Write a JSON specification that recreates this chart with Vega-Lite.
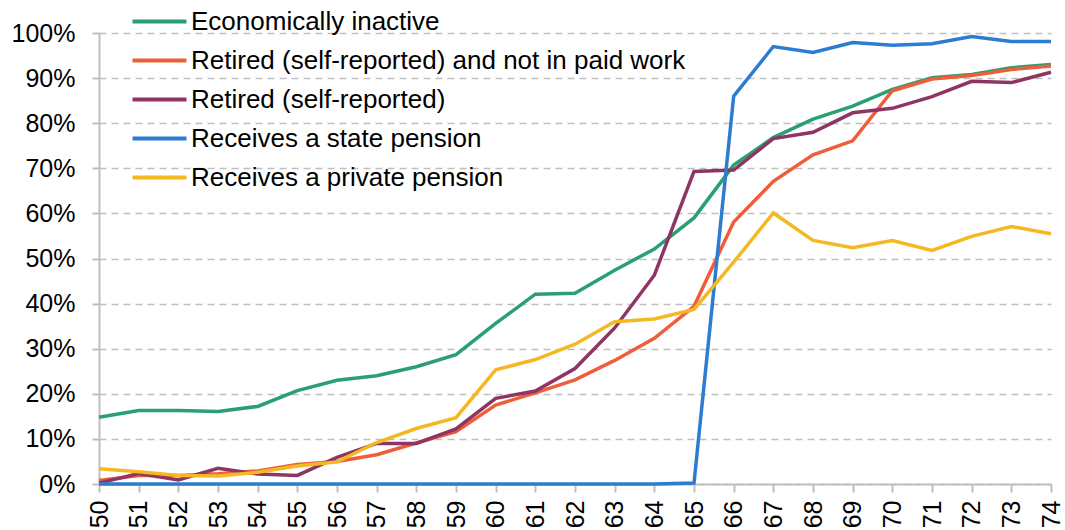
{
  "$schema": "https://vega.github.io/schema/vega-lite/v6.json",
  "width": 952,
  "height": 451,
  "autosize": "none",
  "padding": {"left": 99, "top": 33, "right": 14, "bottom": 46},
  "background": "white",
  "config": {"view": {"stroke": null}, "font": "Liberation Sans"},
  "datasets": {
    "series": [
      {"age": 50, "series": "Economically inactive", "share": 14.8},
      {"age": 51, "series": "Economically inactive", "share": 16.3},
      {"age": 52, "series": "Economically inactive", "share": 16.3},
      {"age": 53, "series": "Economically inactive", "share": 16.1},
      {"age": 54, "series": "Economically inactive", "share": 17.2},
      {"age": 55, "series": "Economically inactive", "share": 20.7},
      {"age": 56, "series": "Economically inactive", "share": 23.0},
      {"age": 57, "series": "Economically inactive", "share": 24.0},
      {"age": 58, "series": "Economically inactive", "share": 26.0},
      {"age": 59, "series": "Economically inactive", "share": 28.7},
      {"age": 60, "series": "Economically inactive", "share": 35.6},
      {"age": 61, "series": "Economically inactive", "share": 42.1},
      {"age": 62, "series": "Economically inactive", "share": 42.3},
      {"age": 63, "series": "Economically inactive", "share": 47.4},
      {"age": 64, "series": "Economically inactive", "share": 52.1},
      {"age": 65, "series": "Economically inactive", "share": 59.0},
      {"age": 66, "series": "Economically inactive", "share": 70.7},
      {"age": 67, "series": "Economically inactive", "share": 76.8},
      {"age": 68, "series": "Economically inactive", "share": 80.9},
      {"age": 69, "series": "Economically inactive", "share": 83.8},
      {"age": 70, "series": "Economically inactive", "share": 87.5},
      {"age": 71, "series": "Economically inactive", "share": 90.1},
      {"age": 72, "series": "Economically inactive", "share": 90.8},
      {"age": 73, "series": "Economically inactive", "share": 92.3},
      {"age": 74, "series": "Economically inactive", "share": 93.0},

      {"age": 50, "series": "Retired (self-reported) and not in paid work", "share": 0.8},
      {"age": 51, "series": "Retired (self-reported) and not in paid work", "share": 1.9},
      {"age": 52, "series": "Retired (self-reported) and not in paid work", "share": 1.9},
      {"age": 53, "series": "Retired (self-reported) and not in paid work", "share": 2.3},
      {"age": 54, "series": "Retired (self-reported) and not in paid work", "share": 2.9},
      {"age": 55, "series": "Retired (self-reported) and not in paid work", "share": 4.3},
      {"age": 56, "series": "Retired (self-reported) and not in paid work", "share": 5.0},
      {"age": 57, "series": "Retired (self-reported) and not in paid work", "share": 6.5},
      {"age": 58, "series": "Retired (self-reported) and not in paid work", "share": 9.1},
      {"age": 59, "series": "Retired (self-reported) and not in paid work", "share": 11.6},
      {"age": 60, "series": "Retired (self-reported) and not in paid work", "share": 17.5},
      {"age": 61, "series": "Retired (self-reported) and not in paid work", "share": 20.2},
      {"age": 62, "series": "Retired (self-reported) and not in paid work", "share": 23.1},
      {"age": 63, "series": "Retired (self-reported) and not in paid work", "share": 27.4},
      {"age": 64, "series": "Retired (self-reported) and not in paid work", "share": 32.3},
      {"age": 65, "series": "Retired (self-reported) and not in paid work", "share": 39.4},
      {"age": 66, "series": "Retired (self-reported) and not in paid work", "share": 58.1},
      {"age": 67, "series": "Retired (self-reported) and not in paid work", "share": 67.1},
      {"age": 68, "series": "Retired (self-reported) and not in paid work", "share": 73.0},
      {"age": 69, "series": "Retired (self-reported) and not in paid work", "share": 76.1},
      {"age": 70, "series": "Retired (self-reported) and not in paid work", "share": 87.2},
      {"age": 71, "series": "Retired (self-reported) and not in paid work", "share": 89.8},
      {"age": 72, "series": "Retired (self-reported) and not in paid work", "share": 90.6},
      {"age": 73, "series": "Retired (self-reported) and not in paid work", "share": 91.9},
      {"age": 74, "series": "Retired (self-reported) and not in paid work", "share": 92.7},

      {"age": 50, "series": "Retired (self-reported)", "share": 0.2},
      {"age": 51, "series": "Retired (self-reported)", "share": 2.3},
      {"age": 52, "series": "Retired (self-reported)", "share": 0.9},
      {"age": 53, "series": "Retired (self-reported)", "share": 3.5},
      {"age": 54, "series": "Retired (self-reported)", "share": 2.2},
      {"age": 55, "series": "Retired (self-reported)", "share": 1.9},
      {"age": 56, "series": "Retired (self-reported)", "share": 5.9},
      {"age": 57, "series": "Retired (self-reported)", "share": 9.0},
      {"age": 58, "series": "Retired (self-reported)", "share": 9.0},
      {"age": 59, "series": "Retired (self-reported)", "share": 12.2},
      {"age": 60, "series": "Retired (self-reported)", "share": 19.0},
      {"age": 61, "series": "Retired (self-reported)", "share": 20.6},
      {"age": 62, "series": "Retired (self-reported)", "share": 25.6},
      {"age": 63, "series": "Retired (self-reported)", "share": 34.6},
      {"age": 64, "series": "Retired (self-reported)", "share": 46.3},
      {"age": 65, "series": "Retired (self-reported)", "share": 69.3},
      {"age": 66, "series": "Retired (self-reported)", "share": 69.6},
      {"age": 67, "series": "Retired (self-reported)", "share": 76.6},
      {"age": 68, "series": "Retired (self-reported)", "share": 78.0},
      {"age": 69, "series": "Retired (self-reported)", "share": 82.3},
      {"age": 70, "series": "Retired (self-reported)", "share": 83.3},
      {"age": 71, "series": "Retired (self-reported)", "share": 85.9},
      {"age": 72, "series": "Retired (self-reported)", "share": 89.3},
      {"age": 73, "series": "Retired (self-reported)", "share": 89.0},
      {"age": 74, "series": "Retired (self-reported)", "share": 91.3},

      {"age": 50, "series": "Receives a state pension", "share": 0},
      {"age": 51, "series": "Receives a state pension", "share": 0},
      {"age": 52, "series": "Receives a state pension", "share": 0},
      {"age": 53, "series": "Receives a state pension", "share": 0},
      {"age": 54, "series": "Receives a state pension", "share": 0},
      {"age": 55, "series": "Receives a state pension", "share": 0},
      {"age": 56, "series": "Receives a state pension", "share": 0},
      {"age": 57, "series": "Receives a state pension", "share": 0},
      {"age": 58, "series": "Receives a state pension", "share": 0},
      {"age": 59, "series": "Receives a state pension", "share": 0},
      {"age": 60, "series": "Receives a state pension", "share": 0},
      {"age": 61, "series": "Receives a state pension", "share": 0},
      {"age": 62, "series": "Receives a state pension", "share": 0},
      {"age": 63, "series": "Receives a state pension", "share": 0},
      {"age": 64, "series": "Receives a state pension", "share": 0},
      {"age": 65, "series": "Receives a state pension", "share": 0.2},
      {"age": 66, "series": "Receives a state pension", "share": 86.0},
      {"age": 67, "series": "Receives a state pension", "share": 97.0},
      {"age": 68, "series": "Receives a state pension", "share": 95.7},
      {"age": 69, "series": "Receives a state pension", "share": 97.9},
      {"age": 70, "series": "Receives a state pension", "share": 97.3},
      {"age": 71, "series": "Receives a state pension", "share": 97.6},
      {"age": 72, "series": "Receives a state pension", "share": 99.2},
      {"age": 73, "series": "Receives a state pension", "share": 98.1},
      {"age": 74, "series": "Receives a state pension", "share": 98.1},

      {"age": 50, "series": "Receives a private pension", "share": 3.4},
      {"age": 51, "series": "Receives a private pension", "share": 2.7},
      {"age": 52, "series": "Receives a private pension", "share": 1.9},
      {"age": 53, "series": "Receives a private pension", "share": 1.8},
      {"age": 54, "series": "Receives a private pension", "share": 2.6},
      {"age": 55, "series": "Receives a private pension", "share": 4.0},
      {"age": 56, "series": "Receives a private pension", "share": 4.9},
      {"age": 57, "series": "Receives a private pension", "share": 9.2},
      {"age": 58, "series": "Receives a private pension", "share": 12.3},
      {"age": 59, "series": "Receives a private pension", "share": 14.7},
      {"age": 60, "series": "Receives a private pension", "share": 25.3},
      {"age": 61, "series": "Receives a private pension", "share": 27.6},
      {"age": 62, "series": "Receives a private pension", "share": 31.0},
      {"age": 63, "series": "Receives a private pension", "share": 36.0},
      {"age": 64, "series": "Receives a private pension", "share": 36.6},
      {"age": 65, "series": "Receives a private pension", "share": 38.7},
      {"age": 66, "series": "Receives a private pension", "share": 49.2},
      {"age": 67, "series": "Receives a private pension", "share": 60.1},
      {"age": 68, "series": "Receives a private pension", "share": 54.0},
      {"age": 69, "series": "Receives a private pension", "share": 52.4},
      {"age": 70, "series": "Receives a private pension", "share": 54.0},
      {"age": 71, "series": "Receives a private pension", "share": 51.8},
      {"age": 72, "series": "Receives a private pension", "share": 54.9},
      {"age": 73, "series": "Receives a private pension", "share": 57.1},
      {"age": 74, "series": "Receives a private pension", "share": 55.5}
    ]
  },
  "data": {"name": "series"},
  "mark": {"type": "line", "strokeWidth": 3.5, "clip": false},
  "encoding": {
    "x": {
      "field": "age",
      "type": "ordinal",
      "scale": {"type": "point", "padding": 0},
      "axis": {
        "title": null,
        "labelAngle": -90,
        "labelFontSize": 25,
        "labelColor": "#000000",
        "labelPadding": 8,
        "domainColor": "#BFBFBF",
        "domainWidth": 2,
        "tickColor": "#BFBFBF",
        "tickWidth": 2,
        "tickSize": 8,
        "grid": false
      }
    },
    "y": {
      "field": "share",
      "type": "quantitative",
      "scale": {"domain": [0, 100], "nice": false},
      "axis": {
        "title": null,
        "values": [0, 10, 20, 30, 40, 50, 60, 70, 80, 90, 100],
        "labelExpr": "datum.value + '%'",
        "labelFontSize": 25,
        "labelColor": "#000000",
        "labelPadding": 17,
        "tickSize": 7,
        "tickColor": "#BFBFBF",
        "tickWidth": 2,
        "domainColor": "#BFBFBF",
        "domainWidth": 2,
        "grid": true,
        "gridColor": "#BFBFBF",
        "gridDash": [7, 5],
        "gridWidth": 1.5
      }
    },
    "color": {
      "field": "series",
      "type": "nominal",
      "scale": {
        "domain": ["Economically inactive", "Retired (self-reported) and not in paid work", "Retired (self-reported)", "Receives a state pension", "Receives a private pension"],
        "range": ["#2A9F74", "#EF5E3B", "#8E3563", "#2C7DD1", "#F4B823"]
      },
      "legend": {
        "title": null,
        "orient": "none",
        "legendX": 45,
        "legendY": -27,
        "symbolType": "M-2,0H2",
        "symbolSize": 729,
        "symbolStrokeWidth": 4,
        "labelFontSize": 26,
        "labelColor": "#000000",
        "labelOffset": 16,
        "labelLimit": 900,
        "rowPadding": 10
      }
    }
  }
}
